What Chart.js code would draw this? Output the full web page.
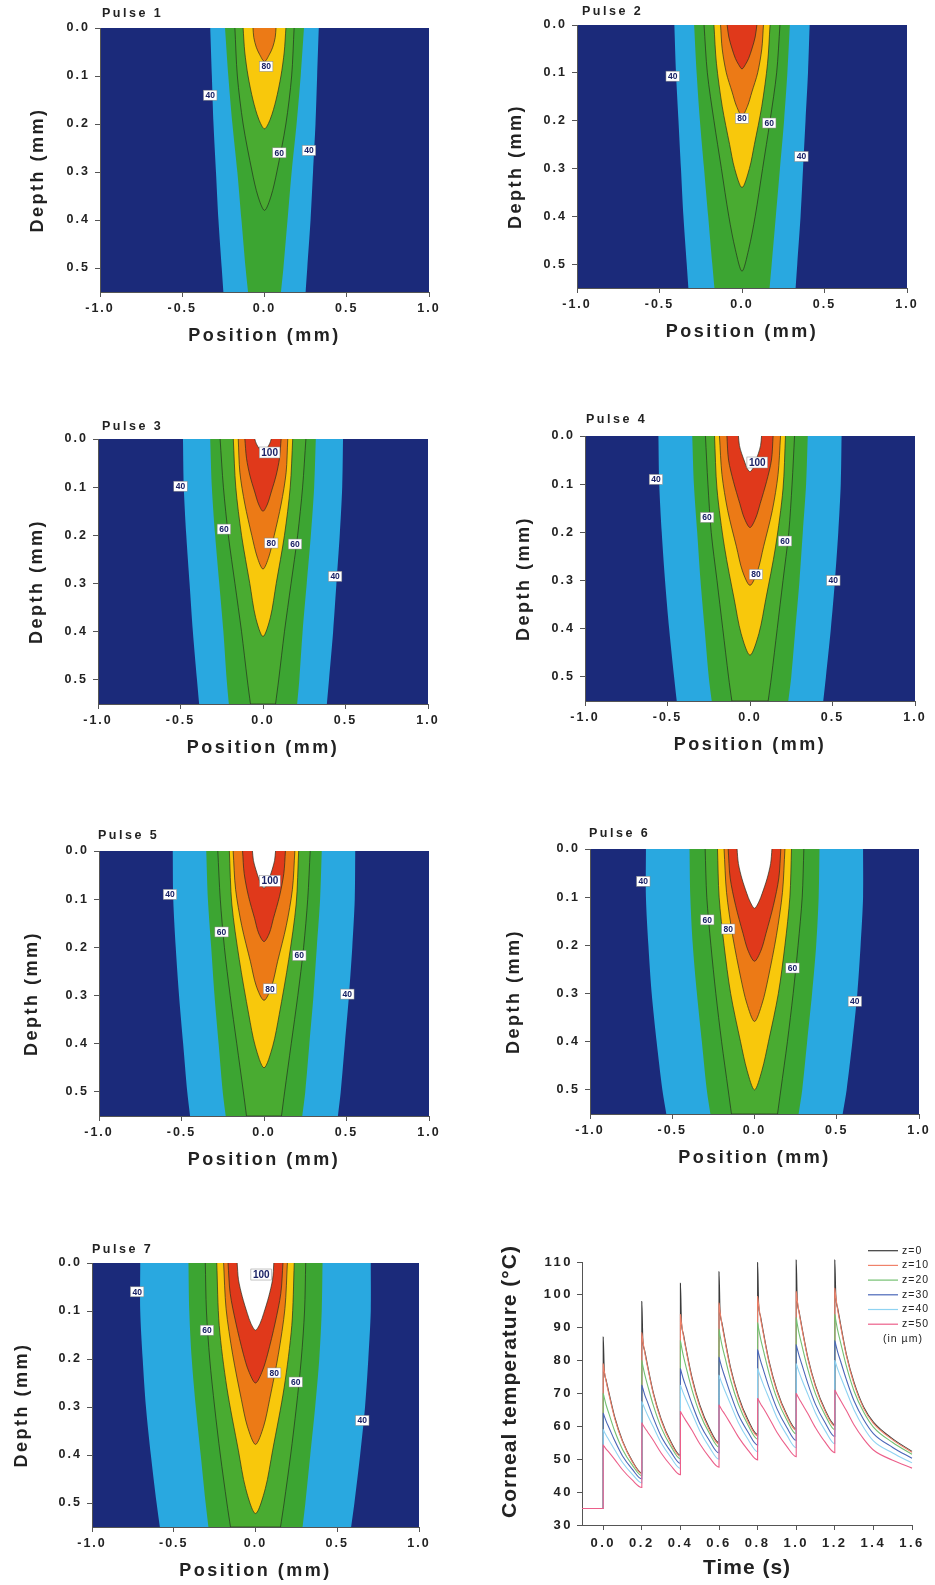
<!DOCTYPE html>
<html>
<head>
<meta charset="utf-8">
<script src="https://cdn.jsdelivr.net/npm/chart.js@4.4.1/dist/chart.umd.min.js"></script>
<style>
  body { margin: 0; background: #fff; }
  #fig { position: relative; width: 935px; height: 1585px; overflow: hidden; }
  #fig canvas { position: absolute; }
</style>
</head>
<body>
<div id="fig"></div>
<script>
// ---- contour data: half-width (mm) of each isotherm vs depth (mm), [depth, halfWidth]
const pulse1Levels = [
  [40, [[0,0.33],[0.1,0.32],[0.2,0.31],[0.3,0.295],[0.4,0.28],[0.5,0.26],[0.55,0.25]]],
  [50, [[0,0.24],[0.1,0.22],[0.2,0.195],[0.3,0.165],[0.4,0.14],[0.5,0.115],[0.55,0.10]]],
  [60, [[0,0.18],[0.1,0.165],[0.2,0.13],[0.3,0.075],[0.35,0.04],[0.38,0]]],
  [70, [[0,0.13],[0.05,0.12],[0.1,0.10],[0.15,0.07],[0.19,0.035],[0.21,0]]],
  [80, [[0,0.07],[0.02,0.065],[0.04,0.05],[0.055,0.03],[0.07,0]]]
];
const pulse2Levels = [
  [40, [[0,0.41],[0.1,0.40],[0.2,0.385],[0.3,0.37],[0.4,0.355],[0.5,0.335],[0.55,0.325]]],
  [50, [[0,0.29],[0.1,0.275],[0.2,0.255],[0.3,0.23],[0.4,0.205],[0.5,0.18],[0.55,0.167]]],
  [60, [[0,0.23],[0.1,0.21],[0.2,0.17],[0.3,0.125],[0.4,0.08],[0.47,0.04],[0.515,0]]],
  [70, [[0,0.17],[0.08,0.155],[0.17,0.12],[0.25,0.075],[0.3,0.045],[0.34,0]]],
  [80, [[0,0.13],[0.05,0.12],[0.1,0.095],[0.14,0.06],[0.17,0.033],[0.19,0]]],
  [90, [[0,0.09],[0.025,0.08],[0.05,0.06],[0.07,0.04],[0.083,0.02],[0.092,0]]]
];
const pulse3Levels = [
  [40, [[0,0.485],[0.1,0.48],[0.2,0.465],[0.3,0.445],[0.4,0.425],[0.5,0.40],[0.55,0.387]]],
  [50, [[0,0.32],[0.1,0.31],[0.2,0.29],[0.3,0.265],[0.4,0.24],[0.5,0.22],[0.55,0.207]]],
  [60, [[0,0.26],[0.1,0.24],[0.2,0.21],[0.3,0.17],[0.4,0.13],[0.5,0.095],[0.55,0.076]]],
  [70, [[0,0.18],[0.1,0.165],[0.2,0.13],[0.3,0.08],[0.37,0.045],[0.41,0]]],
  [80, [[0,0.15],[0.07,0.14],[0.135,0.11],[0.2,0.068],[0.245,0.035],[0.27,0]]],
  [90, [[0,0.11],[0.04,0.10],[0.075,0.08],[0.11,0.05],[0.135,0.027],[0.15,0]]],
  [100, [[0,0.05],[0.01,0.04],[0.02,0.022],[0.025,0]]]
];
const pulse4Levels = [
  [40, [[0,0.555],[0.1,0.55],[0.2,0.535],[0.3,0.515],[0.4,0.49],[0.5,0.46],[0.55,0.444]]],
  [50, [[0,0.35],[0.1,0.34],[0.2,0.32],[0.3,0.30],[0.4,0.275],[0.5,0.25],[0.55,0.232]]],
  [60, [[0,0.27],[0.1,0.255],[0.2,0.235],[0.3,0.20],[0.4,0.165],[0.5,0.13],[0.55,0.11]]],
  [70, [[0,0.215],[0.11,0.20],[0.23,0.155],[0.34,0.095],[0.41,0.054],[0.455,0]]],
  [80, [[0,0.185],[0.08,0.17],[0.155,0.135],[0.23,0.082],[0.28,0.046],[0.31,0]]],
  [90, [[0,0.14],[0.05,0.13],[0.095,0.10],[0.14,0.062],[0.17,0.035],[0.19,0]]],
  [100, [[0,0.07],[0.02,0.064],[0.037,0.05],[0.055,0.031],[0.067,0.018],[0.074,0]]]
];
const pulse5Levels = [
  [40, [[0,0.553],[0.1,0.55],[0.2,0.535],[0.3,0.515],[0.4,0.49],[0.5,0.465],[0.55,0.448]]],
  [50, [[0,0.35],[0.1,0.34],[0.2,0.32],[0.3,0.30],[0.4,0.275],[0.5,0.25],[0.55,0.232]]],
  [60, [[0,0.28],[0.1,0.265],[0.2,0.24],[0.3,0.205],[0.4,0.165],[0.5,0.125],[0.55,0.106]]],
  [70, [[0,0.21],[0.11,0.195],[0.225,0.15],[0.34,0.092],[0.405,0.053],[0.45,0]]],
  [80, [[0,0.187],[0.08,0.172],[0.155,0.135],[0.23,0.082],[0.28,0.047],[0.31,0]]],
  [90, [[0,0.13],[0.047,0.12],[0.094,0.094],[0.14,0.057],[0.17,0.033],[0.188,0]]],
  [100, [[0,0.07],[0.02,0.064],[0.038,0.05],[0.058,0.031],[0.07,0.018],[0.077,0]]]
];
const pulse6Levels = [
  [40, [[0,0.66],[0.1,0.66],[0.2,0.645],[0.3,0.625],[0.4,0.595],[0.5,0.56],[0.55,0.536]]],
  [50, [[0,0.395],[0.1,0.39],[0.2,0.375],[0.3,0.35],[0.4,0.32],[0.5,0.29],[0.55,0.268]]],
  [60, [[0,0.30],[0.1,0.29],[0.2,0.265],[0.3,0.235],[0.4,0.20],[0.5,0.16],[0.55,0.14]]],
  [70, [[0,0.225],[0.1,0.215],[0.2,0.185],[0.3,0.145],[0.4,0.085],[0.46,0.045],[0.5,0]]],
  [80, [[0,0.185],[0.09,0.17],[0.18,0.133],[0.27,0.082],[0.32,0.047],[0.358,0]]],
  [90, [[0,0.16],[0.06,0.148],[0.117,0.115],[0.175,0.07],[0.21,0.04],[0.233,0]]],
  [100, [[0,0.106],[0.03,0.098],[0.062,0.076],[0.092,0.047],[0.11,0.026],[0.123,0]]]
];
const pulse7Levels = [
  [40, [[0,0.705],[0.1,0.705],[0.2,0.69],[0.3,0.67],[0.4,0.64],[0.5,0.605],[0.55,0.585]]],
  [50, [[0,0.41],[0.1,0.405],[0.2,0.39],[0.3,0.365],[0.4,0.335],[0.5,0.305],[0.55,0.288]]],
  [60, [[0,0.307],[0.1,0.30],[0.2,0.28],[0.3,0.25],[0.4,0.215],[0.5,0.175],[0.55,0.153]]],
  [70, [[0,0.237],[0.13,0.222],[0.26,0.175],[0.39,0.105],[0.47,0.06],[0.522,0]]],
  [80, [[0,0.195],[0.095,0.18],[0.19,0.14],[0.285,0.086],[0.34,0.05],[0.378,0]]],
  [90, [[0,0.168],[0.063,0.155],[0.125,0.12],[0.19,0.074],[0.225,0.042],[0.25,0]]],
  [100, [[0,0.112],[0.035,0.104],[0.07,0.081],[0.105,0.05],[0.126,0.028],[0.14,0]]]
];

// contour labels: [text, position (mm), depth (mm)]
const pulse1Labels = [['40',-0.33,0.14],['80',0.01,0.08],['60',0.09,0.26],['40',0.27,0.255]];
const pulse2Labels = [['40',-0.42,0.107],['80',0.0,0.195],['60',0.165,0.205],['40',0.36,0.275]];
const pulse3Labels = [['100',0.04,0.028],['40',-0.5,0.098],['60',-0.237,0.187],['80',0.05,0.216],['60',0.194,0.218],['40',0.437,0.285]];
const pulse4Labels = [['100',0.044,0.055],['40',-0.57,0.09],['60',-0.26,0.169],['60',0.212,0.218],['80',0.036,0.287],['40',0.505,0.30]];
const pulse5Labels = [['100',0.036,0.062],['40',-0.57,0.09],['60',-0.257,0.168],['60',0.214,0.217],['80',0.036,0.286],['40',0.505,0.297]];
const pulse6Labels = [['40',-0.676,0.067],['60',-0.287,0.147],['80',-0.16,0.166],['60',0.231,0.247],['40',0.61,0.316]];
const pulse7Labels = [['100',0.035,0.024],['40',-0.724,0.06],['60',-0.297,0.14],['80',0.114,0.229],['60',0.246,0.248],['40',0.653,0.328]];

// ---- corneal temperature vs time, one array per depth
const timeS = [
  -0.11, 0,
  0, 0.005, 0.015, 0.03, 0.06, 0.1, 0.15, 0.2,
  0.2, 0.205, 0.215, 0.23, 0.26, 0.3, 0.35, 0.4,
  0.4, 0.405, 0.415, 0.43, 0.46, 0.5, 0.55, 0.6,
  0.6, 0.605, 0.615, 0.63, 0.66, 0.7, 0.75, 0.8,
  0.8, 0.805, 0.815, 0.83, 0.86, 0.9, 0.95, 1.0,
  1.0, 1.005, 1.015, 1.03, 1.06, 1.1, 1.15, 1.2,
  1.2, 1.205, 1.215, 1.23, 1.26, 1.3, 1.35, 1.4, 1.5, 1.6
];
const tempZ0 = [35, 35,
  87.2, 77.5, 74.1, 70.1, 62.7, 55.6, 49.5, 45.8,
  98, 86.7, 83.0, 78.4, 70.1, 62.2, 55.4, 51.2,
  103.5, 92.1, 88.2, 83.4, 74.8, 66.5, 59.4, 55.0,
  107, 95.6, 91.5, 86.7, 77.8, 69.3, 62.0, 57.5,
  109.8, 97.6, 93.5, 88.6, 79.6, 71.0, 63.7, 59.2,
  110.6, 99.0, 94.9, 90.0, 81.0, 72.4, 65.0, 60.5,
  110.6, 100.0, 95.9, 91.0, 81.9, 73.3, 65.8, 61.3, 56.2, 52.4];
const tempZ10 = [35, 35,
  79, 77.0, 73.7, 69.6, 62.3, 55.3, 49.3, 45.6,
  88.5, 86.2, 82.5, 78.0, 69.7, 61.8, 55.0, 50.9,
  94, 91.6, 87.7, 83.0, 74.3, 66.0, 58.9, 54.6,
  97.5, 95.1, 91.0, 86.2, 77.3, 68.8, 61.5, 57.1,
  99.5, 97.1, 93.0, 88.1, 79.2, 70.6, 63.3, 58.8,
  101, 98.6, 94.5, 89.6, 80.6, 72.0, 64.6, 60.1,
  102, 99.5, 95.4, 90.5, 81.5, 72.8, 65.4, 60.9, 55.9, 52.1];
const tempZ20 = [35, 35,
  70, 68.8, 66.5, 63.8, 58.5, 53.0, 48.3, 45.0,
  80, 78.5, 75.8, 72.5, 66.3, 59.7, 54.0, 50.1,
  86, 84.4, 81.5, 77.9, 71.1, 64.0, 57.9, 53.7,
  89.5, 87.8, 84.8, 81.2, 74.1, 66.8, 60.4, 56.1,
  91.5, 89.8, 86.8, 83.1, 76.0, 68.5, 62.1, 57.7,
  93, 91.3, 88.2, 84.5, 77.4, 69.9, 63.4, 59.0,
  94, 92.3, 89.2, 85.5, 78.3, 70.7, 64.3, 59.8, 55.1, 51.5];
const tempZ30 = [35, 35,
  64, 63.2, 61.6, 59.6, 55.6, 51.0, 47.0, 44.0,
  72.5, 71.6, 69.6, 67.3, 62.5, 57.0, 52.3, 48.7,
  77.5, 76.5, 74.4, 71.9, 66.8, 60.9, 55.7, 51.9,
  81, 79.9, 77.8, 75.1, 69.8, 63.6, 58.3, 54.3,
  83.3, 82.2, 80.0, 77.2, 71.7, 65.4, 59.8, 55.7,
  84.8, 83.7, 81.5, 78.7, 73.1, 66.7, 61.1, 56.9,
  86, 84.9, 82.6, 79.8, 74.2, 67.7, 62.0, 57.8, 53.6, 50.3];
const tempZ40 = [35, 35,
  59, 58.4, 57.3, 55.8, 52.8, 49.0, 45.5, 42.8,
  67.5, 66.8, 65.4, 63.4, 59.8, 55.0, 50.6, 47.2,
  72.5, 71.7, 70.1, 68.0, 64.0, 58.7, 53.7, 50.0,
  75.5, 74.7, 73.1, 70.9, 66.7, 61.2, 56.1, 52.3,
  77.5, 76.7, 75.0, 72.7, 68.4, 62.7, 57.5, 53.5,
  79, 78.2, 76.5, 74.1, 69.8, 64.1, 58.7, 54.7,
  80, 79.2, 77.4, 75.1, 70.7, 65.0, 59.6, 55.6, 51.9, 48.9];
const tempZ50 = [35, 35,
  54.3, 53.9, 53.1, 52.1, 49.9, 46.8, 43.7, 41.4,
  61, 60.5, 59.6, 58.3, 55.7, 51.9, 48.1, 45.3,
  64.5, 64.0, 63.0, 61.6, 58.8, 54.7, 50.6, 47.6,
  66.5, 66.0, 65.0, 63.7, 60.8, 56.8, 52.8, 49.8,
  68.5, 68.0, 66.9, 65.5, 62.5, 58.2, 54.0, 50.8,
  70, 69.5, 68.4, 66.9, 63.9, 59.6, 55.2, 52.0,
  71, 70.5, 69.4, 67.9, 64.8, 60.4, 56.1, 52.8, 49.7, 47.3];
const timeTicks = [0, 0.2, 0.4, 0.6, 0.8, 1.0, 1.2, 1.4, 1.6];
const seriesNames = ['z=0', 'z=10', 'z=20', 'z=30', 'z=40', 'z=50'];
const seriesColors = ['#3b3b3b', '#f0826a', '#74c072', '#4a66b8', '#8fd3f2', '#ec5f8a'];

// ---- styles
const FONT = "'Liberation Sans', Arial, sans-serif";
Chart.defaults.font.family = FONT;
Chart.defaults.color = '#222';
const navy = '#1b2a7a';
const levelColors = { 40: '#29a8e0', 50: '#3ca532', 60: '#49ab31', 70: '#f8c80c', 80: '#ec7a16', 90: '#e0391b', 100: '#ffffff' };
const isoLine = 'rgba(35,45,30,0.85)';

const fig = document.getElementById('fig');

function makeCanvas(box) {
  const c = document.createElement('canvas');
  c.width = box[2]; c.height = box[3];
  c.style.left = box[0] + 'px'; c.style.top = box[1] + 'px';
  c.style.width = box[2] + 'px'; c.style.height = box[3] + 'px';
  fig.appendChild(c);
  return c;
}

// closed outline of an isotherm: down the left side, back up the right side.
// bottom corners of open isotherms are doubled so the spline keeps them sharp
function contourShape(pts) {
  const last = pts[pts.length - 1];
  const open = last[1] > 0;
  const left = pts.map(([d, w]) => ({ x: -w, y: d }));
  const right = pts.slice().reverse().filter(([d, w]) => w > 0).map(([d, w]) => ({ x: w, y: d }));
  if (open) {
    left.push({ x: -last[1], y: last[0] });
    right.unshift({ x: last[1], y: last[0] });
  }
  return left.concat(right);
}

function fmt1(v) { return Number(v).toFixed(1); }
function keepTenths(axis) {
  axis.ticks = axis.ticks.filter(t => Math.abs(t.value * 10 - Math.round(t.value * 10)) < 1e-6);
}

function textPlugin(p) {
  return {
    id: 'panelText',
    beforeDraw(chart) {
      const ctx = chart.ctx, a = chart.chartArea;
      if (p.background) {
        ctx.save();
        ctx.fillStyle = p.background;
        ctx.fillRect(a.left, a.top, a.right - a.left, a.bottom - a.top);
        ctx.restore();
      }
      ctx.letterSpacing = p.tickSpacing + 'px';
    },
    afterDatasetsDraw(chart) {
      if (!p.labels) return;
      const ctx = chart.ctx, xs = chart.scales.x, ys = chart.scales.y;
      ctx.save();
      ctx.letterSpacing = '0px';
      ctx.textAlign = 'center';
      ctx.textBaseline = 'middle';
      p.labels.forEach(([txt, x, d]) => {
        const px = xs.getPixelForValue(x), py = ys.getPixelForValue(d);
        const big = txt.length > 2;
        ctx.font = 'bold ' + (big ? 10 : 8.5) + 'px ' + FONT;
        const w = ctx.measureText(txt).width + 4, h = big ? 11 : 10;
        ctx.fillStyle = '#fff';
        ctx.fillRect(px - w / 2, py - h / 2, w, h);
        ctx.strokeStyle = '#888';
        ctx.lineWidth = 0.5;
        ctx.strokeRect(px - w / 2, py - h / 2, w, h);
        ctx.fillStyle = '#1a2266';
        ctx.fillText(txt, px, py + 0.5);
      });
      ctx.restore();
    },
    afterDraw(chart) {
      const ctx = chart.ctx, a = chart.chartArea;
      ctx.save();
      ctx.fillStyle = '#222';
      ctx.textBaseline = 'middle';
      if (p.title) {
        ctx.letterSpacing = '2.5px';
        ctx.font = 'bold 12.5px ' + FONT;
        ctx.textAlign = 'left';
        ctx.fillText(p.title, a.left + p.titleDx, a.top - p.titleGap);
      }
      ctx.letterSpacing = p.axisSpacing + 'px';
      ctx.font = 'bold ' + p.axisSize + 'px ' + FONT;
      ctx.textAlign = 'center';
      ctx.fillText(p.xTitle, (a.left + a.right) / 2, a.bottom + p.xGap);
      ctx.save();
      ctx.translate(a.left - p.yGap, (a.top + a.bottom) / 2 + p.yShift);
      ctx.rotate(-Math.PI / 2);
      ctx.fillText(p.yTitle, 0, 0);
      ctx.restore();
      if (p.legend) {
        ctx.letterSpacing = '1px';
        ctx.font = '10.5px ' + FONT;
        ctx.textAlign = 'left';
        chart.data.datasets.forEach((ds, i) => {
          const y = a.top - 11.3 + i * 14.7;
          ctx.strokeStyle = ds.borderColor;
          ctx.lineWidth = 1.2;
          ctx.beginPath();
          ctx.moveTo(a.right - 44, y);
          ctx.lineTo(a.right - 14, y);
          ctx.stroke();
          ctx.fillStyle = '#222';
          ctx.fillText(ds.label, a.right - 10, y);
        });
        ctx.fillText('(in \u00b5m)', a.right - 29, a.top - 11.3 + 6 * 14.7);
      }
      ctx.restore();
    }
  };
}

function axisBase(extra) {
  return Object.assign({
    type: 'linear',
    grid: { drawOnChartArea: false, drawTicks: true, tickLength: 5, color: '#555' },
    border: { display: true, color: '#555', width: 1 }
  }, extra);
}

const panels = [
  { title: 'Pulse 1', levels: pulse1Levels, labels: pulse1Labels, box: [0, 0, 467, 400], pad: [55, 28, 38, 78], titleDx: 2, titleGap: 14, yGap: 61.5 },
  { title: 'Pulse 2', levels: pulse2Levels, labels: pulse2Labels, box: [467, 0, 468, 400], pad: [65, 25, 28, 82], titleDx: 5, titleGap: 13, yGap: 60.5 },
  { title: 'Pulse 3', levels: pulse3Levels, labels: pulse3Labels, box: [0, 400, 467, 410], pad: [53, 39, 39, 76], titleDx: 4, titleGap: 12.5, yGap: 61.3 },
  { title: 'Pulse 4', levels: pulse4Levels, labels: pulse4Labels, box: [467, 400, 468, 410], pad: [73, 36, 20, 79], titleDx: 1, titleGap: 16, yGap: 61 },
  { title: 'Pulse 5', levels: pulse5Levels, labels: pulse5Labels, box: [0, 810, 467, 410], pad: [54, 41, 38, 74], titleDx: -1, titleGap: 15, yGap: 66.5 },
  { title: 'Pulse 6', levels: pulse6Levels, labels: pulse6Labels, box: [467, 810, 468, 410], pad: [78, 39, 16, 76], titleDx: -1, titleGap: 15, yGap: 75.5 },
  { title: 'Pulse 7', levels: pulse7Levels, labels: pulse7Labels, box: [0, 1220, 467, 365], pad: [47, 43, 48, 28], titleDx: 0, titleGap: 13.5, yGap: 69.5 }
];

panels.forEach(p => {
  const canvas = makeCanvas(p.box);
  // highest isotherm first so it is drawn on top
  const datasets = p.levels.slice().reverse().map(([lvl, pts]) => ({
    label: String(lvl),
    data: contourShape(pts),
    showLine: true,
    fill: 'shape',
    backgroundColor: levelColors[lvl],
    borderColor: lvl >= 60 ? isoLine : 'rgba(0,0,0,0)',
    borderWidth: lvl >= 60 ? 0.8 : 0,
    pointRadius: 0,
    tension: 0.3,
    clip: 0
  }));
  new Chart(canvas, {
    type: 'scatter',
    data: { datasets },
    options: {
      responsive: false, animation: false, devicePixelRatio: 1, events: [],
      layout: { padding: { left: p.pad[0], top: p.pad[1], right: p.pad[2], bottom: p.pad[3] } },
      plugins: { legend: { display: false }, tooltip: { enabled: false } },
      scales: {
        x: axisBase({
          min: -1, max: 1, z: 1,
          ticks: { stepSize: 0.5, callback: fmt1, font: { size: 12.5, weight: 'bold' }, color: '#222', padding: 4, maxRotation: 0 },
          afterFit: s => { s.height = 30; }
        }),
        y: axisBase({
          min: 0, max: 0.55, reverse: true, z: 1,
          ticks: { stepSize: 0.1, callback: fmt1, font: { size: 12.5, weight: 'bold' }, color: '#222', padding: 5 },
          afterBuildTicks: keepTenths,
          afterFit: s => { s.width = 45; }
        })
      }
    },
    plugins: [textPlugin({
      background: navy, tickSpacing: 2, labels: p.labels,
      title: p.title, titleDx: p.titleDx, titleGap: p.titleGap,
      xTitle: 'Position (mm)', yTitle: 'Depth (mm)',
      axisSize: 18, axisSpacing: 2.5, xGap: 44, yGap: p.yGap, yShift: 10
    })]
  });
});

// ---- temperature chart
const tempSeries = [tempZ0, tempZ10, tempZ20, tempZ30, tempZ40, tempZ50];
const lineCanvas = makeCanvas([467, 1220, 468, 365]);
new Chart(lineCanvas, {
  type: 'scatter',
  data: {
    datasets: tempSeries.map((vals, i) => ({
      label: seriesNames[i],
      data: timeS.map((t, k) => ({ x: t, y: vals[k] })),
      showLine: true,
      borderColor: seriesColors[i],
      backgroundColor: seriesColors[i],
      borderWidth: 1.1,
      pointRadius: 0,
      cubicInterpolationMode: 'monotone',
      order: 5 - i,
      clip: false
    }))
  },
  options: {
    responsive: false, animation: false, devicePixelRatio: 1, events: [],
    layout: { padding: { left: 70, top: 42, right: 23, bottom: 30 } },
    plugins: { legend: { display: false }, tooltip: { enabled: false } },
    scales: {
      x: axisBase({
        min: -0.11, max: 1.6,
        ticks: { callback: fmt1, font: { size: 13, weight: 'bold' }, color: '#222', padding: 6, maxRotation: 0 },
        afterBuildTicks: axis => { axis.ticks = timeTicks.map(v => ({ value: v })); },
        afterFit: s => { s.height = 30; }
      }),
      y: axisBase({
        min: 30, max: 110,
        ticks: { stepSize: 10, font: { size: 13, weight: 'bold' }, color: '#222', padding: 4 },
        afterFit: s => { s.width = 45; }
      })
    }
  },
  plugins: [textPlugin({
    tickSpacing: 2.5, legend: true,
    xTitle: 'Time (s)', yTitle: 'Corneal temperature (\u00b0C)',
    axisSize: 21, axisSpacing: 1, xGap: 43, yGap: 72, yShift: -12
  })]
});
</script>
</body>
</html>
